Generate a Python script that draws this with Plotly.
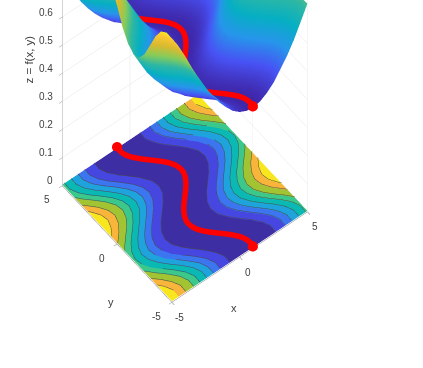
import numpy as np
import plotly.graph_objects as go

x_grid = [-5,-4.5,-4,-3.5,-3,-2.5,-2,-1.5,-1,-.5,0,.5,1,1.5,2,2.5,3,3.5,4,4.5,5]
y_grid = [-5,-4.5,-4,-3.5,-3,-2.5,-2,-1.5,-1,-.5,0,.5,1,1.5,2,2.5,3,3.5,4,4.5,5]
z_rows = [
[.938,.895,.842,.785,.733,.684,.637,.598,.565,.536,.516,.504,.500,.505,.519,.540,.571,.604,.644,.692,.741],
[.939,.897,.845,.787,.735,.686,.638,.600,.567,.537,.516,.504,.500,.504,.518,.539,.569,.603,.642,.690,.739],
[.922,.874,.819,.764,.713,.665,.621,.584,.552,.527,.510,.501,.501,.510,.527,.552,.584,.619,.663,.711,.762],
[.884,.830,.774,.722,.674,.628,.591,.558,.531,.513,.502,.501,.508,.523,.546,.578,.612,.654,.702,.752,.806],
[.831,.774,.723,.674,.629,.591,.559,.532,.513,.502,.501,.507,.523,.546,.577,.612,.654,.702,.752,.805,.862],
[.779,.727,.679,.632,.594,.562,.534,.514,.503,.500,.506,.521,.543,.574,.608,.649,.697,.747,.800,.857,.908],
[.746,.697,.649,.608,.574,.543,.521,.506,.500,.503,.514,.534,.562,.595,.633,.679,.728,.780,.836,.890,.934],
[.737,.688,.640,.601,.568,.538,.517,.504,.500,.504,.517,.538,.568,.601,.640,.688,.737,.789,.847,.899,.941],
[.754,.703,.655,.613,.578,.547,.523,.508,.501,.502,.513,.531,.558,.590,.627,.673,.721,.772,.829,.882,.928],
[.791,.739,.690,.642,.603,.569,.539,.518,.504,.500,.504,.516,.537,.567,.600,.638,.686,.735,.787,.845,.897],
[.847,.789,.737,.688,.640,.601,.568,.538,.517,.504,.500,.504,.517,.538,.568,.601,.640,.688,.737,.789,.847],
[.897,.845,.787,.735,.686,.638,.600,.567,.537,.516,.504,.500,.504,.518,.539,.569,.603,.642,.690,.739,.791],
[.928,.882,.829,.772,.721,.673,.627,.590,.558,.531,.513,.502,.501,.508,.523,.547,.578,.613,.655,.703,.754],
[.941,.899,.847,.789,.737,.688,.640,.601,.568,.538,.517,.504,.500,.504,.517,.538,.568,.601,.640,.688,.737],
[.934,.890,.836,.780,.728,.679,.633,.595,.562,.534,.514,.503,.500,.506,.521,.543,.574,.608,.649,.697,.746],
[.908,.857,.800,.747,.697,.649,.608,.574,.543,.521,.506,.500,.503,.514,.534,.562,.594,.632,.679,.727,.779],
[.862,.805,.752,.702,.654,.612,.577,.546,.523,.507,.501,.502,.513,.532,.559,.591,.629,.674,.723,.774,.831],
[.806,.752,.702,.654,.612,.578,.546,.523,.508,.501,.502,.513,.531,.558,.591,.628,.674,.722,.774,.830,.884],
[.762,.711,.663,.619,.584,.552,.527,.510,.501,.501,.510,.527,.552,.584,.621,.665,.713,.764,.819,.874,.922],
[.739,.690,.642,.603,.569,.539,.518,.504,.500,.504,.516,.537,.567,.600,.638,.686,.735,.787,.845,.897,.939],
[.741,.692,.644,.604,.571,.540,.519,.505,.500,.504,.516,.536,.565,.598,.637,.684,.733,.785,.842,.895,.938],
]
path_y = [-5,-4.75,-4.5,-4.25,-4,-3.75,-3.5,-3.25,-3,-2.75,-2.5,-2.25,-2,-1.75,-1.5,-1.25,-1,-.75,-.5,-.25,0,
          .25,.5,.75,1,1.25,1.5,1.75,2,2.25,2.5,2.75,3,3.25,3.5,3.75,4,4.25,4.5,4.75,5]
path_x = [.96,1,.98,.9,.76,.57,.35,.11,-.14,-.38,-.60,-.78,-.91,-.98,-1,-.95,-.84,-.68,-.48,-.25,0,
          .25,.48,.68,.84,.95,1,.98,.91,.78,.60,.38,.14,-.11,-.35,-.57,-.76,-.9,-.98,-1,-.96]
path_z = [.506]*41
levels = [.549,.594,.632,.678,.727,.775,.84,.895]
x_ticks = [-5,0,5]
y_ticks = [-5,0,5]
z_ticks = [0,.1,.2,.3,.4,.5,.6]
z_tick_text = ['0','0.1','0.2','0.3','0.4','0.5','0.6']
smooth_colors = ['#3e26a8','#4852f4','#2796eb','#06afc3','#2eb7a4','#87cc59','#d9ba30','#fcc732','#f9fb15']
band_colors = ['#3d2ea3','#4547e0','#3b75f0','#1fa3dc','#0ab8b4','#3cc88a','#a2c332','#f9b43c','#f8e61e']

Z = np.array(z_rows)
cmin, cmax = .5, .95

def contour(level):
    xs, ys = [], []
    for j in range(len(y_grid)-1):
        for i in range(len(x_grid)-1):
            c = [(x_grid[i],y_grid[j],Z[j,i]),(x_grid[i+1],y_grid[j],Z[j,i+1]),
                 (x_grid[i+1],y_grid[j+1],Z[j+1,i+1]),(x_grid[i],y_grid[j+1],Z[j+1,i])]
            pts = []
            for a,b in zip(c, c[1:]+c[:1]):
                if (a[2]-level)*(b[2]-level) < 0:
                    t = (level-a[2])/(b[2]-a[2])
                    pts.append((a[0]+t*(b[0]-a[0]), a[1]+t*(b[1]-a[1])))
            for k in range(0,len(pts)-1,2):
                xs += [pts[k][0],pts[k+1][0],None]
                ys += [pts[k][1],pts[k+1][1],None]
    return xs, ys

n = len(band_colors)
smooth = [[i/(n-1),c] for i,c in enumerate(smooth_colors)]
edges = [cmin]+levels+[cmax]
step = []
for i,c in enumerate(band_colors):
    step += [[(edges[i]-cmin)/(cmax-cmin),c],[(edges[i+1]-cmin)/(cmax-cmin),c]]
flat = dict(ambient=1,diffuse=0,specular=0,roughness=1,fresnel=0)

BASE = .004
fig = go.Figure()
fig.add_surface(x=x_grid,y=y_grid,z=Z,surfacecolor=Z,colorscale=smooth,cmin=cmin,cmax=cmax,
                showscale=False,lighting=flat,hoverinfo='skip')
fig.add_surface(x=x_grid,y=y_grid,z=np.full_like(Z,BASE),surfacecolor=Z,colorscale=step,cmin=cmin,cmax=cmax,
                showscale=False,lighting=flat,hoverinfo='skip')
for L in levels:
    xs,ys = contour(L)
    fig.add_scatter3d(x=xs,y=ys,z=[None if v is None else BASE+.002 for v in xs],mode='lines',
                      line=dict(color='#4a4a4a',width=1),showlegend=False,hoverinfo='skip')
red = dict(mode='lines',line=dict(color='#ff0000',width=11),showlegend=False,hoverinfo='skip')
fig.add_scatter3d(x=path_x,y=path_y,z=path_z,**red)
fig.add_scatter3d(x=path_x,y=path_y,z=[BASE+.004]*len(path_x),**red)
end = dict(mode='markers',marker=dict(color='#ff0000',size=6),showlegend=False,hoverinfo='skip')
fig.add_scatter3d(x=[path_x[0],path_x[-1]],y=[path_y[0],path_y[-1]],z=[path_z[0],path_z[-1]],**end)
fig.add_scatter3d(x=[path_x[0],path_x[-1]],y=[path_y[0],path_y[-1]],z=[BASE+.004]*2,**end)

LX,LY,LZ = .94,.96,2.83
PX = 183.0
a,b,ce,se = .784,.621,.54,.842
direction = np.array([-b*ce,-a*ce,se])
r = np.array([a,-b,0.0])
u = np.array([se*b,se*a,ce])
c = (26.5*r - 125*u)/PX
D = 5
e = c + D*direction

TXT = dict(family='Liberation Sans, Arial, sans-serif',size=10,color='#404040')
ann = []
def lab(x,y,z,t,dx,dy,**kw):
    f = dict(TXT); f.update(kw.pop('font',{}))
    ann.append(dict(x=x,y=y,z=z,text=t,showarrow=False,xshift=dx,yshift=-dy,font=f,**kw))
for v in x_ticks: lab(v,-5,0,str(v),8,15)
for v in y_ticks: lab(-5,v,0,str(v),-15,14)
for v,t in zip(z_ticks,z_tick_text): lab(-5,5,v,t,-7,-5,xanchor='right')
lab(0,-5,0,'x',-6,51,font=dict(size=11))
lab(-5,0,0,'y',-6,58,font=dict(size=11))
lab(-5,5,.45,'z = f(x, y)',-33,0,textangle=-90,font=dict(size=11.5))

def ax(vals,rng):
    return dict(range=rng,tickvals=vals,showticklabels=False,title=dict(text=''),showbackground=False,
                showgrid=True,gridcolor='#e4e4e4',gridwidth=1,showline=True,linecolor='#8c8c8c',linewidth=1,
                zeroline=False,ticks='outside',ticklen=4,tickcolor='#8c8c8c',showspikes=False)
fig.update_layout(width=423,height=368,margin=dict(l=0,r=0,t=0,b=0),paper_bgcolor='white',
    scene=dict(domain=dict(x=[0,1],y=[0,1]),
        xaxis=ax(x_ticks,[-5,5]),yaxis=ax(y_ticks,[-5,5]),zaxis=ax(z_ticks,[0,1]),
        aspectmode='manual',aspectratio=dict(x=LX,y=LY,z=LZ),
        camera=dict(projection=dict(type='orthographic'),up=dict(x=0,y=0,z=1),
                    center=dict(x=c[0],y=c[1],z=c[2]),eye=dict(x=e[0],y=e[1],z=e[2])),
        annotations=ann))
fig.write_html('out.html',post_script="document.body.style.margin='0';",config=dict(displayModeBar=False))
